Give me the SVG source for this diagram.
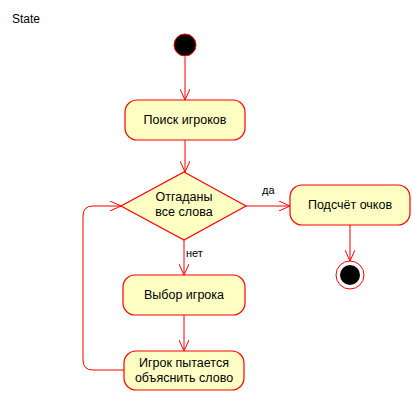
<svg xmlns="http://www.w3.org/2000/svg" width="412" height="400" viewBox="0 0 412 400">
<defs>
<style>
.node{fill:#FFFFC4;stroke:#FF0000;stroke-width:1.2}
.t{font-family:"Liberation Sans",Arial,sans-serif;font-size:12.5px;fill:#000;text-anchor:middle}
.lbl{font-family:"Liberation Sans",Arial,sans-serif;font-size:11px;fill:#000}
.c{fill:none;stroke:#FF0000;stroke-width:1}
</style>
<marker id="arr" viewBox="0 0 12 10" refX="11" refY="5" markerWidth="12" markerHeight="10" markerUnits="userSpaceOnUse" orient="auto">
<path d="M0,0 L11,5 L0,10" fill="none" stroke="#FF0000" stroke-width="1"/>
</marker>
</defs>
<rect width="412" height="400" fill="#fff"/>
<text x="12" y="23" font-family="Liberation Sans,Arial,sans-serif" font-size="12" fill="#000">State</text>
<g id="connectors">
<path class="c" d="M185,57 L185,100" marker-end="url(#arr)"/>
<path class="c" d="M185,140 L185,172" marker-end="url(#arr)"/>
<path class="c" d="M246,206 L290,206" marker-end="url(#arr)"/>
<path class="c" d="M184,240 L184,275" marker-end="url(#arr)"/>
<path class="c" d="M184,315 L184,351" marker-end="url(#arr)"/>
<path class="c" d="M350,225 L350,261" marker-end="url(#arr)"/>
<path class="c" d="M124,370 L93,370 Q83,370 83,360 L83,216 Q83,206 93,206 L121,206" marker-end="url(#arr)"/>
<text class="lbl" x="262" y="194">да</text>
<text class="lbl" x="186" y="257">нет</text>
</g>
<g id="start"><circle cx="185" cy="45" r="11" fill="#000" stroke="#FF0000" stroke-width="1"/></g>
<g id="search"><rect class="node" x="125" y="100" width="120" height="40" rx="12"/><text class="t" x="185" y="124">Поиск игроков</text></g>
<g id="decision"><polygon class="node" points="184,172 246,206 184,240 121,206"/><text class="t" x="184" y="201">Отгаданы</text><text class="t" x="184" y="216">все слова</text></g>
<g id="count"><rect class="node" x="290" y="185" width="120" height="40" rx="12"/><text class="t" x="350" y="209">Подсчёт очков</text></g>
<g id="end"><circle cx="350" cy="275" r="14" fill="none" stroke="#FF0000" stroke-width="1"/><circle cx="350" cy="275" r="10" fill="#000"/></g>
<g id="choose"><rect class="node" x="123" y="275" width="122" height="40" rx="12"/><text class="t" x="184" y="299">Выбор игрока</text></g>
<g id="explain"><rect class="node" x="124" y="351" width="120" height="39" rx="12"/><text class="t" x="184" y="367">Игрок пытается</text><text class="t" x="184" y="382">объяснить слово</text></g>
</svg>
